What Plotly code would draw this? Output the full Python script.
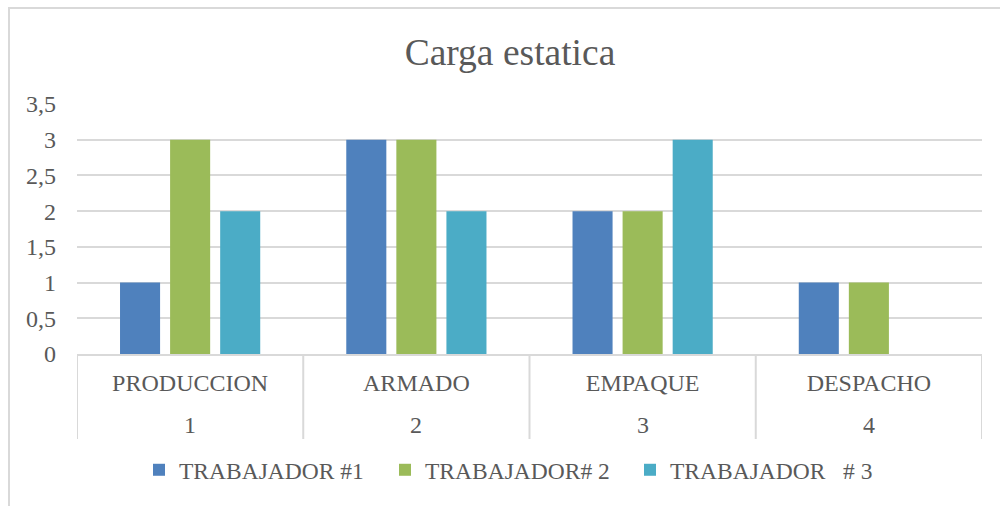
import plotly.graph_objects as go

areas = ["PRODUCCION", "ARMADO", "EMPAQUE", "DESPACHO"]
area_nums = ["1", "2", "3", "4"]
series_names = ["TRABAJADOR #1", "TRABAJADOR# 2", "TRABAJADOR\u00a0\u00a0\u00a0# 3"]
t1 = [1, 3, 2, 1]
t2 = [3, 3, 2, 1]
t3 = [2, 2, 3, 0]
colors = ["#4F81BD", "#9BBB59", "#4BACC6"]
y_ticks = [0, 0.5, 1, 1.5, 2, 2.5, 3, 3.5]
y_labels = ["0", "0,5", "1", "1,5", "2", "2,5", "3", "3,5"]

FONT = "Liberation Serif, Times New Roman, serif"
TXT = "#595959"
GRID = "#d9d9d9"

# pixel geometry helpers (plot area: x 77..982, y 104..354)
L, R, T, B = 77, 982, 104, 354
def px_x(p):
    return (p - L) / (R - L)
def px_y(p):
    return (B - p) / (B - T)

legend_names = ["legend", "legend2", "legend3"]
legend_x = [139, 385, 630]

fig = go.Figure()
for name, vals, col, lg in zip(series_names, [t1, t2, t3], colors, legend_names):
    fig.add_trace(go.Bar(
        x=areas, y=vals, name=name, legend=lg,
        marker=dict(color=col, line=dict(width=0)),
    ))

legend_common = dict(orientation="h", xanchor="left", yanchor="middle", y=px_y(470),
                      font=dict(family=FONT, size=23.5, color=TXT),
                      bgcolor="rgba(0,0,0,0)", borderwidth=0)

fig.update_layout(
    width=1000, height=506,
    paper_bgcolor="white", plot_bgcolor="white",
    margin=dict(l=L, r=1000 - R, t=T, b=506 - B),
    barmode="group", bargap=0.336, bargroupgap=0.2,
    font=dict(family=FONT, color=TXT, size=24),
    title=dict(text="Carga estatica", x=0.51, xanchor="center", y=1 - 52 / 506, yanchor="middle",
               font=dict(family=FONT, size=37.5, color=TXT)),
    showlegend=True,
    legend=dict(x=px_x(legend_x[0]), **legend_common),
    legend2=dict(x=px_x(legend_x[1]), **legend_common),
    legend3=dict(x=px_x(legend_x[2]), **legend_common),
    xaxis=dict(type="category", showline=True, linecolor=GRID, linewidth=2,
               ticks="", ticklabelstandoff=6, range=[-0.5, 3.5],
               tickfont=dict(family=FONT, size=24, color=TXT), showgrid=False),
    yaxis=dict(range=[0, 3.5], tickvals=y_ticks, ticktext=y_labels,
               showgrid=True, gridcolor=GRID, gridwidth=1.5, zeroline=False,
               showline=False, ticks="", ticklabelstandoff=20,
               tickfont=dict(family=FONT, size=24, color=TXT)),
)

# second-level category labels (1..4) under the area names
for a, n in zip(areas, area_nums):
    fig.add_annotation(x=a, xref="x", y=px_y(425), yref="paper", text=n, showarrow=False,
                       xanchor="center", yanchor="middle",
                       font=dict(family=FONT, size=24, color=TXT))

# category dividers
for i in range(len(areas) + 1):
    fig.add_shape(type="line", xref="x", yref="paper", x0=i - 0.5, x1=i - 0.5,
                  y0=0, y1=px_y(439), line=dict(color=GRID, width=2))

# chart frame (top and left edges visible)
fig.add_shape(type="path", xref="paper", yref="paper",
              path=f"M 1.1,{px_y(8)} L {px_x(9)},{px_y(8)} L {px_x(9)},-0.7",
              line=dict(color=GRID, width=2), fillcolor="rgba(0,0,0,0)")

fig.write_html("out.html", config={"displayModeBar": False},
               post_script="document.body.style.margin='0';document.body.style.overflow='hidden';")
